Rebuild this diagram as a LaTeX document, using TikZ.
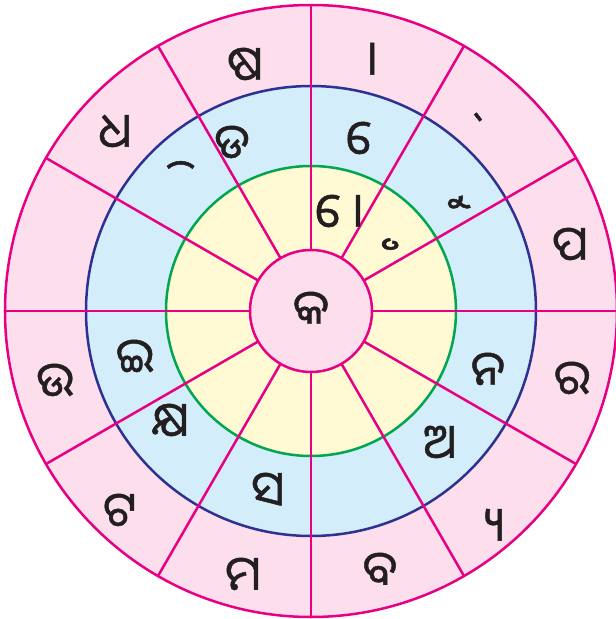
\documentclass[tikz,border=0pt]{standalone}
\usepackage{fontspec}
\newfontfamily\odia[Script=Oriya,FakeBold=1]{Noto Sans Oriya UI}
\definecolor{pinkfill}{RGB}{252,222,236}
\definecolor{bluefill}{RGB}{212,237,250}
\definecolor{yellowfill}{RGB}{255,250,212}
\definecolor{mag}{RGB}{232,0,132}
\definecolor{navy}{RGB}{46,49,146}
\definecolor{grn}{RGB}{0,166,81}
\definecolor{ink}{RGB}{35,31,32}
\begin{document}
\begin{tikzpicture}[x=1pt,y=1pt,
  glyph/.style={font=\odia\fontsize{48}{56}\selectfont, text=ink, inner sep=0pt},
  ring/.style={line width=2.5pt},
  spoke/.style={mag, line width=2.5pt}]
\useasboundingbox (-311,-308) rectangle (305,311);
\fill[pinkfill] (0,0) circle (306);
\fill[bluefill] (0,0) circle (225);
\fill[yellowfill] (0,0) circle (145);
\draw[ring, navy] (0,0) circle (225);
\draw[ring, grn] (0,0) circle (145);
\foreach \a in {0,30,...,330} {
  \coordinate (i\a) at (\a:61);
  \coordinate (o\a) at (\a:306);
  \draw[spoke] (i\a) -- (o\a);
}
\draw[ring, mag] (0,0) circle (306);
\node[draw=mag, line width=2.5pt, fill=pinkfill, circle, minimum size=122pt, inner sep=0pt] (hub) at (0,0) {};
\node[glyph] (c) at (0,1) {କ};
% outer ring
\node[glyph] (o1) at (-66,245) {ଷ};
\node[glyph] (o2) at (55,250) {^^^^00a0ା};
\node[glyph] (o3) at (156,194) {^^^^00a0୍};
\node[glyph] (o4) at (259,65) {ପ};
\node[glyph] (o5) at (261,-69) {ର};
\node[glyph] (o6) at (177,-216) {^^^^00a0୍ୟ};
\node[glyph] (o7) at (69,-260) {ବ};
\node[glyph] (o8) at (-68,-265) {ମ};
\node[glyph] (o9) at (-191,-201) {ଟ};
\node[glyph] (o10) at (-256,-71) {ଉ};
\node[glyph] (o11) at (-196,178) {ଧ};
% blue ring
\node[glyph] (b1) at (-79,167) {ଡ};
\node[glyph] (b2) at (54,171) {^^^^00a0େ};
\node[glyph] (b3) at (123,109) {^^^^00a0ୁ};
\node[glyph] (b4) at (177,-60) {ନ};
\node[glyph] (b5) at (129,-133) {ଅ};
\node[glyph] (b6) at (-43,-180) {ସ};
\node[glyph] (b7) at (-141,-111) {କ୍ଷ};
\node[glyph] (b8) at (-176,-47) {ଇ};
\node[glyph] (b9) at (-151,127) {^^^^00a0ି};
% yellow ring
\node[glyph] (y1) at (28,98) {^^^^00a0ୋ};
\node[glyph] (y2) at (53,67) {^^^^00a0ୃ};
\end{tikzpicture}
\end{document}
